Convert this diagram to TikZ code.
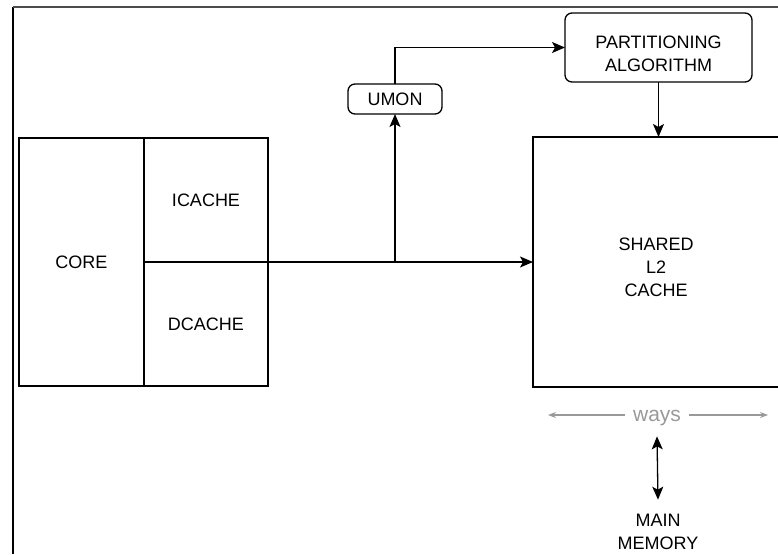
\documentclass[tikz,border=0pt]{standalone}
\usepackage{fontspec}
\setmainfont{Liberation Sans}
\usepackage{tikz}
\usetikzlibrary{calc, arrows.meta, positioning}

\begin{document}
\begin{tikzpicture}[x=1pt, y=-1pt,
    >={Stealth[length=13pt, width=11pt, inset=3pt]},
    every node/.style={font=\fontsize{18}{23}\selectfont, align=center},
    blk/.style={draw, line width=1.3pt, inner sep=0pt, outer sep=0pt},
    rblk/.style={blk, rounded corners=7pt},
    conn/.style={line width=1.3pt, ->},
    waysarr/.style={draw=black!40, line width=1.2pt, -{Stealth[length=8pt, width=6pt]}}]
                  \useasboundingbox (0,0) rectangle (778,554);
                  % frame of the page
                  \draw[line width=1.3pt] (13,554) -- (13,7);
                  \draw[line width=1.3pt, black!70] (13,7) -- (778,7);
                  % core and its caches
                  \node[blk, minimum width=125pt, minimum height=248pt] (core) at (81.5,262){CORE};
                  \node[blk, minimum width=124pt, minimum height=124pt, anchor=north west] (icache) at (core.north east){ICACHE};
                  \node[blk, minimum width=124pt, minimum height=124pt, anchor=north west] (dcache) at (icache.south west){DCACHE};
                  \node[blk, minimum width=246pt, minimum height=250pt] (shared) at (656,262){\\[1pt]SHARED\\L2\\CACHE};
                  \node[rblk, minimum width=94pt, minimum height=30pt] (umon) at (395,99){UMON};
                  \node[rblk, minimum width=187pt, minimum height=69pt] (part) at (658.5,47.5){\\[2pt]PARTITIONING\\ALGORITHM};
                  \node[text=black!40, font=\fontsize{21}{25}\selectfont, inner xsep=8pt] (ways) at (657,418){ways};
                  \node (mem) at (658,532){MAIN\\MEMORY};
                  \coordinate (tap) at (umon.south |- icache.south east);
                  \coordinate (wl) at (548,415);
                  \coordinate (wr) at (768,415);
                  % connectors
                  \draw[conn] (icache.south east) -- (shared.west);
                  \draw[conn] (tap) -- (umon.south);
                  \draw[conn] (umon.north) |- (part.west);
                  \draw[conn] (part.south) -- (part.south |- shared.north);
                  \draw[conn, <->] ([yshift=-7pt]ways.south) -- ([yshift=11pt]mem.north);
                  \draw[waysarr] (ways.west |- wl) -- (wl);
                  \draw[waysarr] (ways.east |- wr) -- (wr);
\end{tikzpicture}
\end{document}
